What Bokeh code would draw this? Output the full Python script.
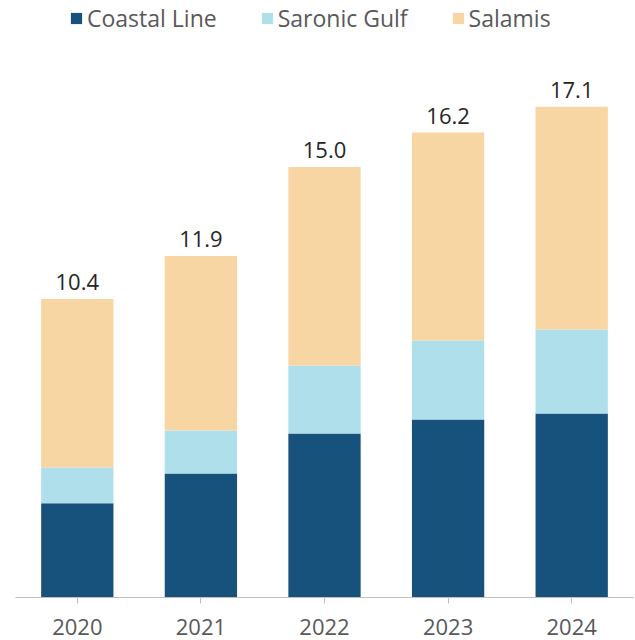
from bokeh.plotting import figure
from bokeh.models import FactorRange, Range1d, Legend, LegendItem, ColumnDataSource
from bokeh.embed import file_html
from bokeh.resources import INLINE
from bokeh.core.properties import value

years = ["2020", "2021", "2022", "2023", "2024"]
coastal = [3.28, 4.32, 5.71, 6.20, 6.41]
saronic = [1.25, 1.50, 2.37, 2.75, 2.93]
salamis = [5.87, 6.08, 6.92, 7.25, 7.76]
totals = [10.4, 11.9, 15.0, 16.2, 17.1]
series = ["Coastal Line", "Saronic Gulf", "Salamis"]
colors = ["#17527D", "#AEDFEA", "#F7D6A3"]

FONT = "Open Sans"

src = ColumnDataSource(dict(
    years=years,
    **{"Coastal Line": coastal, "Saronic Gulf": saronic, "Salamis": salamis},
    totals=totals,
    labels=["%.1f" % t for t in totals],
))

p = figure(
    width=635, height=640,
    x_range=FactorRange(factors=years),
    y_range=Range1d(0, 20.8),
    output_backend="svg", toolbar_location=None,
    y_axis_location=None,
    min_border_left=15, min_border_right=2, min_border_top=0, min_border_bottom=43,
)

renderers = p.vbar_stack(series, x="years", width=0.585, color=colors,
                         line_color=None, source=src)

p.text(x="years", y="totals", text="labels", source=src,
       text_align="center", text_baseline="bottom", y_offset=-9,
       text_font=value(FONT), text_font_size="22px", text_color="#262626")

legend = Legend(items=[LegendItem(label=s, renderers=[r]) for s, r in zip(series, renderers)],
                orientation="horizontal", location=(54, 563),
                label_text_font=FONT, label_text_font_size="23px",
                label_text_color="#595959", glyph_width=14, glyph_height=14,
                label_standoff=4, spacing=43, margin=0, padding=2,
                border_line_color=None, background_fill_alpha=0)
p.add_layout(legend)

p.xgrid.grid_line_color = None
p.ygrid.grid_line_color = None
p.outline_line_color = None
p.background_fill_color = "white"
p.border_fill_color = "white"

ax = p.xaxis[0]
ax.axis_line_color = "#BFBFBF"
ax.axis_line_width = 1
ax.major_tick_line_color = "#BFBFBF"
ax.major_tick_in = 0
ax.major_tick_out = 6
ax.minor_tick_line_color = None
ax.major_label_text_font = FONT
ax.major_label_text_font_size = "22px"
ax.major_label_text_color = "#595959"
ax.major_label_standoff = 15

open("out.html", "w").write(file_html(p, INLINE))
